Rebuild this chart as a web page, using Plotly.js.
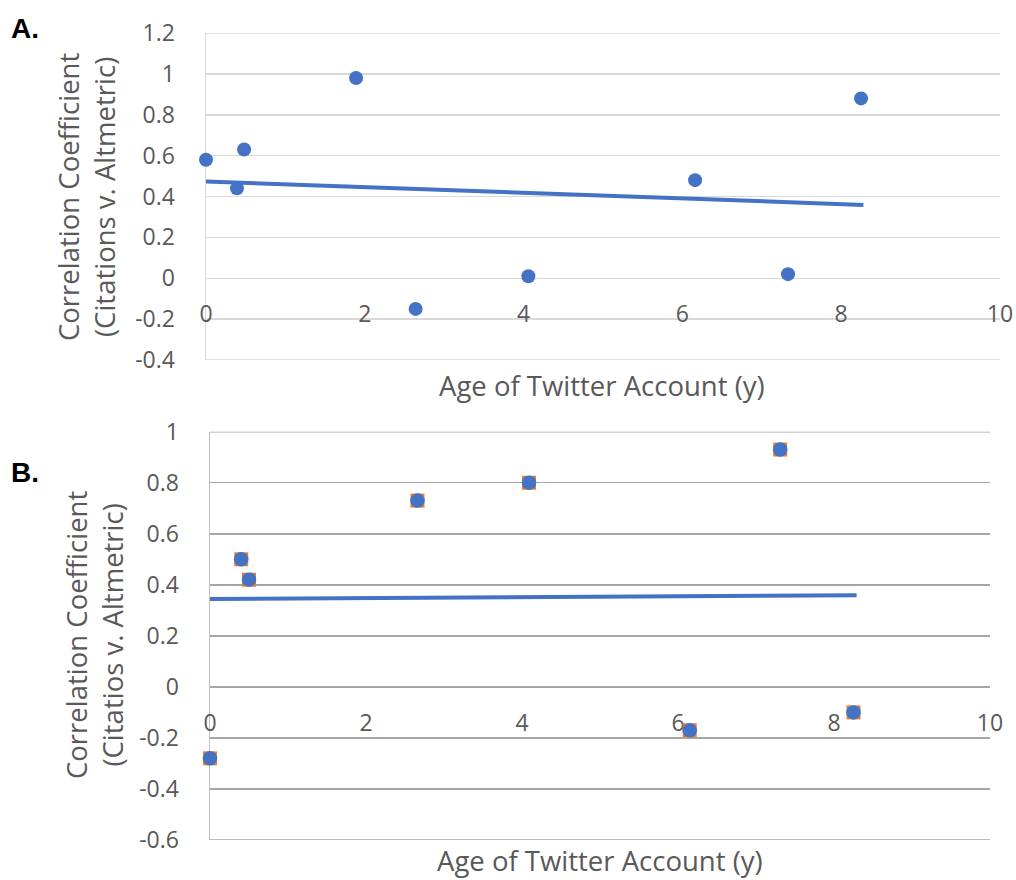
<!DOCTYPE html>
<html>
<head>
<meta charset="utf-8">
<script src="https://cdn.plot.ly/plotly-3.0.1.min.js"></script>
<style>html,body{margin:0;padding:0;background:#fff;}#chart{width:1016px;height:880px;}</style>
</head>
<body>
<div id="chart"></div>
<script>
// Panel A data
const ageA = [0, 0.39, 0.48, 1.89, 2.64, 4.06, 6.16, 7.33, 8.25];
const corrA = [0.58, 0.44, 0.63, 0.98, -0.15, 0.01, 0.48, 0.02, 0.88];
const trendAX = [0, 8.28];
const trendAY = [0.473, 0.359];
// Panel B data
const ageB = [0, 0.40, 0.50, 2.66, 4.09, 6.15, 7.31, 8.25];
const corrB = [-0.28, 0.50, 0.42, 0.73, 0.80, -0.17, 0.93, -0.10];
const trendBX = [0, 8.29];
const trendBY = [0.344, 0.359];
// Tick labels
const xTicks = [0, 2, 4, 6, 8, 10];
const xTickText = ['0', '2', '4', '6', '8', '10'];
const yTicksA = [-0.4, -0.2, 0, 0.2, 0.4, 0.6, 0.8, 1, 1.2];
const yTickTextA = ['-0.4', '-0.2', '0', '0.2', '0.4', '0.6', '0.8', '1', '1.2'];
const yTicksB = [-0.6, -0.4, -0.2, 0, 0.2, 0.4, 0.6, 0.8, 1];
const yTickTextB = ['-0.6', '-0.4', '-0.2', '0', '0.2', '0.4', '0.6', '0.8', '1'];
const xTitle = 'Age of Twitter Account (y)';
const yTitleA = 'Correlation Coefficient<br>(Citations v. Altmetric)';
const yTitleB = 'Correlation Coefficient<br>(Citatios v. Altmetric)';

const W = 1016, H = 880;
const BLUE = '#4472C4', ORANGE = '#ED7D31', TXT = '#595959';
const GRID_A = '#d9d9d9', GRID_B = '#a6a6a6';
const FONT = 'Open Sans, sans-serif';
const px = v => v / W;
const py = v => 1 - v / H;

const traces = [
  {x: ageA, y: corrA, type: 'scatter', mode: 'markers', xaxis: 'x', yaxis: 'y',
   marker: {symbol: 'circle', size: 14, color: BLUE}, showlegend: false, cliponaxis: false},
  {x: trendAX, y: trendAY, type: 'scatter', mode: 'lines', xaxis: 'x', yaxis: 'y',
   line: {color: BLUE, width: 4}, showlegend: false},
  {x: ageB, y: corrB, type: 'scatter', mode: 'markers', xaxis: 'x2', yaxis: 'y2',
   marker: {symbol: 'square', size: 14, color: ORANGE}, showlegend: false, cliponaxis: false},
  {x: ageB, y: corrB, type: 'scatter', mode: 'markers', xaxis: 'x2', yaxis: 'y2',
   marker: {symbol: 'circle', size: 14.5, color: BLUE}, showlegend: false, cliponaxis: false},
  {x: trendBX, y: trendBY, type: 'scatter', mode: 'lines', xaxis: 'x2', yaxis: 'y2',
   line: {color: BLUE, width: 4}, showlegend: false}
];

const tickFont = {family: FONT, size: 23, color: TXT};
const titleFont = {family: FONT, size: 27.5, color: TXT};

// edge gridlines (Plotly omits gridlines at the range ends)
function edgeGrid(xr, yr, vals, color) {
  return [vals[0], vals[vals.length - 1]].map(v => ({
    type: 'line', xref: xr + ' domain', yref: yr, x0: 0, x1: 1, y0: v, y1: v,
    line: {color: color, width: 1.5}, layer: 'below'
  }));
}

const layout = {
  width: W, height: H,
  margin: {l: 0, r: 0, t: 0, b: 0},
  paper_bgcolor: '#fff', plot_bgcolor: 'rgba(0,0,0,0)',
  showlegend: false,
  xaxis: {
    domain: [px(206), px(1000)], range: [0, 10],
    anchor: 'free', position: py(278.3),
    tickvals: xTicks, ticktext: xTickText, tickfont: tickFont,
    ticks: '', ticklabelstandoff: 20,
    showgrid: false, zeroline: false, showline: false,
    layer: 'below traces', automargin: false, fixedrange: true
  },
  yaxis: {
    domain: [py(360), py(33)], range: [-0.4, 1.2], anchor: 'x',
    tickvals: yTicksA, ticktext: yTickTextA, tickfont: tickFont,
    ticks: '', ticklabelstandoff: 25,
    showgrid: true, gridcolor: GRID_A, gridwidth: 1.5,
    zeroline: false, showline: true, linecolor: GRID_A, linewidth: 1.5,
    layer: 'below traces', automargin: false, fixedrange: true
  },
  xaxis2: {
    domain: [px(210), px(990)], range: [0, 10],
    anchor: 'free', position: py(686.7),
    tickvals: xTicks, ticktext: xTickText, tickfont: tickFont,
    ticks: '', ticklabelstandoff: 20,
    showgrid: false, zeroline: false, showline: false,
    layer: 'below traces', automargin: false, fixedrange: true
  },
  yaxis2: {
    domain: [py(840), py(431.7)], range: [-0.6, 1], anchor: 'x2',
    tickvals: yTicksB, ticktext: yTickTextB, tickfont: tickFont,
    ticks: '', ticklabelstandoff: 25,
    showgrid: true, gridcolor: GRID_B, gridwidth: 1.5,
    zeroline: false, showline: true, linecolor: '#bfbfbf', linewidth: 1.5,
    layer: 'below traces', automargin: false, fixedrange: true
  },
  shapes: [].concat(edgeGrid('x', 'y', yTicksA, GRID_A), edgeGrid('x2', 'y2', yTicksB, GRID_B)),
  annotations: [
    {text: '<b>A.</b>', xref: 'paper', yref: 'paper', x: px(25), y: py(28),
     xanchor: 'center', yanchor: 'middle', showarrow: false,
     font: {family: 'Liberation Sans, Arial, sans-serif', size: 28, color: '#000'}},
    {text: '<b>B.</b>', xref: 'paper', yref: 'paper', x: px(25), y: py(472),
     xanchor: 'center', yanchor: 'middle', showarrow: false,
     font: {family: 'Liberation Sans, Arial, sans-serif', size: 28, color: '#000'}},
    {text: xTitle, xref: 'paper', yref: 'paper', x: px(602), y: py(385),
     xanchor: 'center', yanchor: 'middle', showarrow: false, font: titleFont},
    {text: xTitle, xref: 'paper', yref: 'paper', x: px(600), y: py(860),
     xanchor: 'center', yanchor: 'middle', showarrow: false, font: titleFont},
    {text: yTitleA, xref: 'paper', yref: 'paper', x: px(86), y: py(197),
     xanchor: 'center', yanchor: 'middle', showarrow: false, textangle: -90, font: titleFont},
    {text: yTitleB, xref: 'paper', yref: 'paper', x: px(94), y: py(635),
     xanchor: 'center', yanchor: 'middle', showarrow: false, textangle: -90, font: titleFont}
  ]
};

Plotly.newPlot('chart', traces, layout, {displayModeBar: false, staticPlot: true});
</script>
</body>
</html>
